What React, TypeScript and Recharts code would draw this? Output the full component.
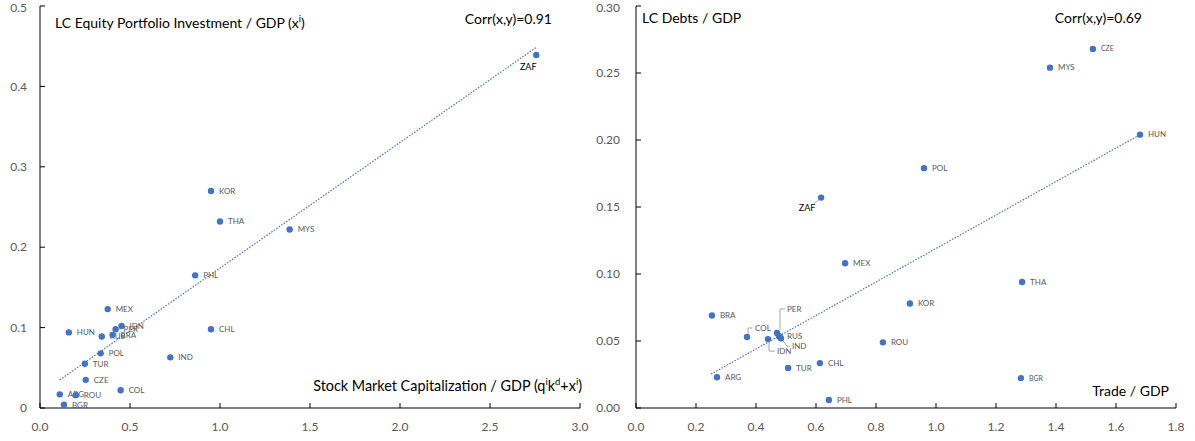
import React from 'react';
import { ScatterChart, Scatter, XAxis, YAxis, ReferenceLine } from 'recharts';

// Left panel: stock market capitalization vs LC equity portfolio investment
const equityCountries = ['ZAF', 'KOR', 'THA', 'MYS', 'PHL', 'MEX', 'IDN', 'PER', 'HUN', 'RUS', 'BRA', 'CHL', 'POL', 'IND', 'TUR', 'CZE', 'COL', 'ARG', 'ROU', 'BGR'];
const equityMarketCap = [2.757, 0.95, 1.0, 1.387, 0.862, 0.376, 0.453, 0.42, 0.16, 0.343, 0.403, 0.95, 0.337, 0.724, 0.249, 0.254, 0.448, 0.11, 0.199, 0.133];
const equityPortfolio = [0.439, 0.27, 0.232, 0.222, 0.165, 0.123, 0.102, 0.098, 0.094, 0.089, 0.091, 0.098, 0.068, 0.063, 0.055, 0.035, 0.022, 0.017, 0.016, 0.004];
const equityTrendX = [0.11, 2.76];
const equityTrendY = [0.035, 0.449];
const equityXTicks = [0, 0.5, 1, 1.5, 2, 2.5, 3];
const equityYTicks = [0, 0.1, 0.2, 0.3, 0.4, 0.5];

// Right panel: trade openness vs LC debts
const debtCountries = ['CZE', 'MYS', 'HUN', 'POL', 'ZAF', 'MEX', 'THA', 'KOR', 'BRA', 'COL', 'PER', 'RUS', 'IND', 'IDN', 'ROU', 'CHL', 'TUR', 'ARG', 'PHL', 'BGR'];
const debtTrade = [1.523, 1.38, 1.68, 0.96, 0.617, 0.697, 1.287, 0.913, 0.253, 0.37, 0.47, 0.477, 0.483, 0.44, 0.823, 0.613, 0.507, 0.27, 0.643, 1.283];
const debtShare = [0.268, 0.254, 0.204, 0.179, 0.157, 0.108, 0.094, 0.078, 0.069, 0.053, 0.056, 0.0535, 0.0521, 0.0514, 0.049, 0.0335, 0.0298, 0.023, 0.006, 0.0223];
const debtTrendX = [0.25, 1.68];
const debtTrendY = [0.0253, 0.204];
const debtXTicks = [0, 0.2, 0.4, 0.6, 0.8, 1, 1.2, 1.4, 1.6, 1.8];
const debtYTicks = [0, 0.05, 0.1, 0.15, 0.2, 0.25, 0.3];

const BLUE = '#4472C4';
const GREY = '#595959';
const FONT = 'Lato, "Open Sans", sans-serif';

type Placement = {
  dx: number;
  dy: number;
  anchor?: 'start' | 'middle' | 'end';
  color?: string;
  size?: number;
  leader?: number[][];
};

const defaultPlacement: Placement = { dx: 8, dy: 0 };

const equityLabels: Record<string, Placement> = {
  ZAF: { dx: -8, dy: 12, anchor: 'middle', color: '#000', size: 9 },
};

const debtLabels: Record<string, Placement> = {
  ZAF: { dx: -14, dy: 10, anchor: 'middle', color: '#000', size: 9, leader: [[-1, 1], [-7, 6]] },
  PER: { dx: 10, dy: -24, leader: [[3, -3], [3, -24], [8, -24]] },
  IND: { dx: 11, dy: 8, leader: [[1, 1], [6, 8], [9, 8]] },
  IDN: { dx: 9, dy: 12, leader: [[1, 3], [1, 12], [7, 12]] },
  COL: { dx: 8, dy: -9, leader: [[1, -3], [1, -9], [5, -9]] },
  CZE: { dx: 8, dy: 0, size: 7 },
  BGR: { dx: 8, dy: 0, size: 7 },
};

const makePoints = (names: string[], xs: number[], ys: number[]) =>
  names.map((name, i) => ({ name, x: xs[i], y: ys[i] }));

const makeDot = (labels: Record<string, Placement>) => (props: any) => {
  const { cx, cy, payload } = props;
  if (cx == null || cy == null) return <g />;
  const p = { ...defaultPlacement, ...(labels[payload.name] || {}) };
  return (
    <g>
      {p.leader && (
        <polyline
          points={p.leader.map(([a, b]) => `${cx + a},${cy + b}`).join(' ')}
          fill="none"
          stroke="#A6A6A6"
          strokeWidth={1}
        />
      )}
      <circle cx={cx} cy={cy} r={3.2} fill={BLUE} />
      <text
        x={cx + p.dx}
        y={cy + p.dy}
        dy="0.35em"
        textAnchor={p.anchor || 'start'}
        fontSize={p.size || 8}
        fill={p.color || GREY}
        fontFamily={FONT}
      >
        {payload.name}
      </text>
    </g>
  );
};

const tickStyle = { fontSize: 12, fill: GREY, fontFamily: FONT };
const axisLine = { stroke: '#000', strokeWidth: 1 };

const textBox = (style: React.CSSProperties): React.CSSProperties => ({
  position: 'absolute',
  whiteSpace: 'nowrap',
  fontFamily: FONT,
  fontSize: 14,
  lineHeight: '18px',
  color: '#000',
  ...style,
});

const sup = { fontSize: 9.5 };

export default function App() {
  const equityPoints = makePoints(equityCountries, equityMarketCap, equityPortfolio);
  const debtPoints = makePoints(debtCountries, debtTrade, debtShare);

  return (
    <div style={{ position: 'absolute', left: 0, top: 0, width: 1195, height: 441, background: '#fff' }}>
      <div style={{ position: 'absolute', left: 0, top: 0 }}>
        <ScatterChart width={595} height={441} margin={{ top: 6, right: 15, bottom: 0, left: 0 }}>
          <XAxis
            type="number"
            dataKey="x"
            domain={[0, 3]}
            ticks={equityXTicks}
            tickFormatter={(v: number) => v.toFixed(1)}
            tick={tickStyle}
            axisLine={axisLine}
            tickLine={axisLine}
            tickSize={-5}
            tickMargin={19}
            height={33}
          />
          <YAxis
            type="number"
            dataKey="y"
            domain={[0, 0.5]}
            ticks={equityYTicks}
            tickFormatter={(v: number) => (v === 0 ? '0' : v.toFixed(1))}
            tick={tickStyle}
            axisLine={axisLine}
            tickLine={axisLine}
            tickSize={-5}
            tickMargin={18}
            width={40}
          />
          <ReferenceLine
            segment={[
              { x: equityTrendX[0], y: equityTrendY[0] },
              { x: equityTrendX[1], y: equityTrendY[1] },
            ]}
            stroke={BLUE}
            strokeWidth={1.2}
            strokeDasharray="1.5 1.5"
          />
          <Scatter data={equityPoints} shape={makeDot(equityLabels)} isAnimationActive={false} />
        </ScatterChart>
      </div>
      <div style={{ position: 'absolute', left: 595, top: 0 }}>
        <ScatterChart width={600} height={441} margin={{ top: 6, right: 19, bottom: 0, left: 0 }}>
          <XAxis
            type="number"
            dataKey="x"
            domain={[0, 1.8]}
            ticks={debtXTicks}
            tickFormatter={(v: number) => v.toFixed(1)}
            tick={tickStyle}
            axisLine={axisLine}
            tickLine={axisLine}
            tickSize={-5}
            tickMargin={19}
            height={33}
          />
          <YAxis
            type="number"
            dataKey="y"
            domain={[0, 0.3]}
            ticks={debtYTicks}
            tickFormatter={(v: number) => v.toFixed(2)}
            tick={tickStyle}
            axisLine={axisLine}
            tickLine={axisLine}
            tickSize={-5}
            tickMargin={21}
            width={41}
          />
          <ReferenceLine
            segment={[
              { x: debtTrendX[0], y: debtTrendY[0] },
              { x: debtTrendX[1], y: debtTrendY[1] },
            ]}
            stroke={BLUE}
            strokeWidth={1.2}
            strokeDasharray="1.5 1.5"
          />
          <Scatter data={debtPoints} shape={makeDot(debtLabels)} isAnimationActive={false} />
        </ScatterChart>
      </div>

      <div style={textBox({ left: 55, top: 10 })}>
        LC Equity Portfolio Investment / GDP (x<sup style={sup}>i</sup>)
      </div>
      <div style={textBox({ right: 1195 - 552, top: 10 })}>Corr(x,y)=0.91</div>
      <div style={textBox({ right: 1195 - 582, top: 373, fontSize: 14.4 })}>
        Stock Market Capitalization / GDP (q<sup style={sup}>i</sup>k<sup style={sup}>d</sup>+x<sup style={sup}>i</sup>)
      </div>

      <div style={textBox({ left: 642, top: 9 })}>LC Debts / GDP</div>
      <div style={textBox({ right: 1195 - 1142, top: 9 })}>Corr(x,y)=0.69</div>
      <div style={textBox({ right: 1195 - 1169, top: 382 })}>Trade / GDP</div>
    </div>
  );
}
